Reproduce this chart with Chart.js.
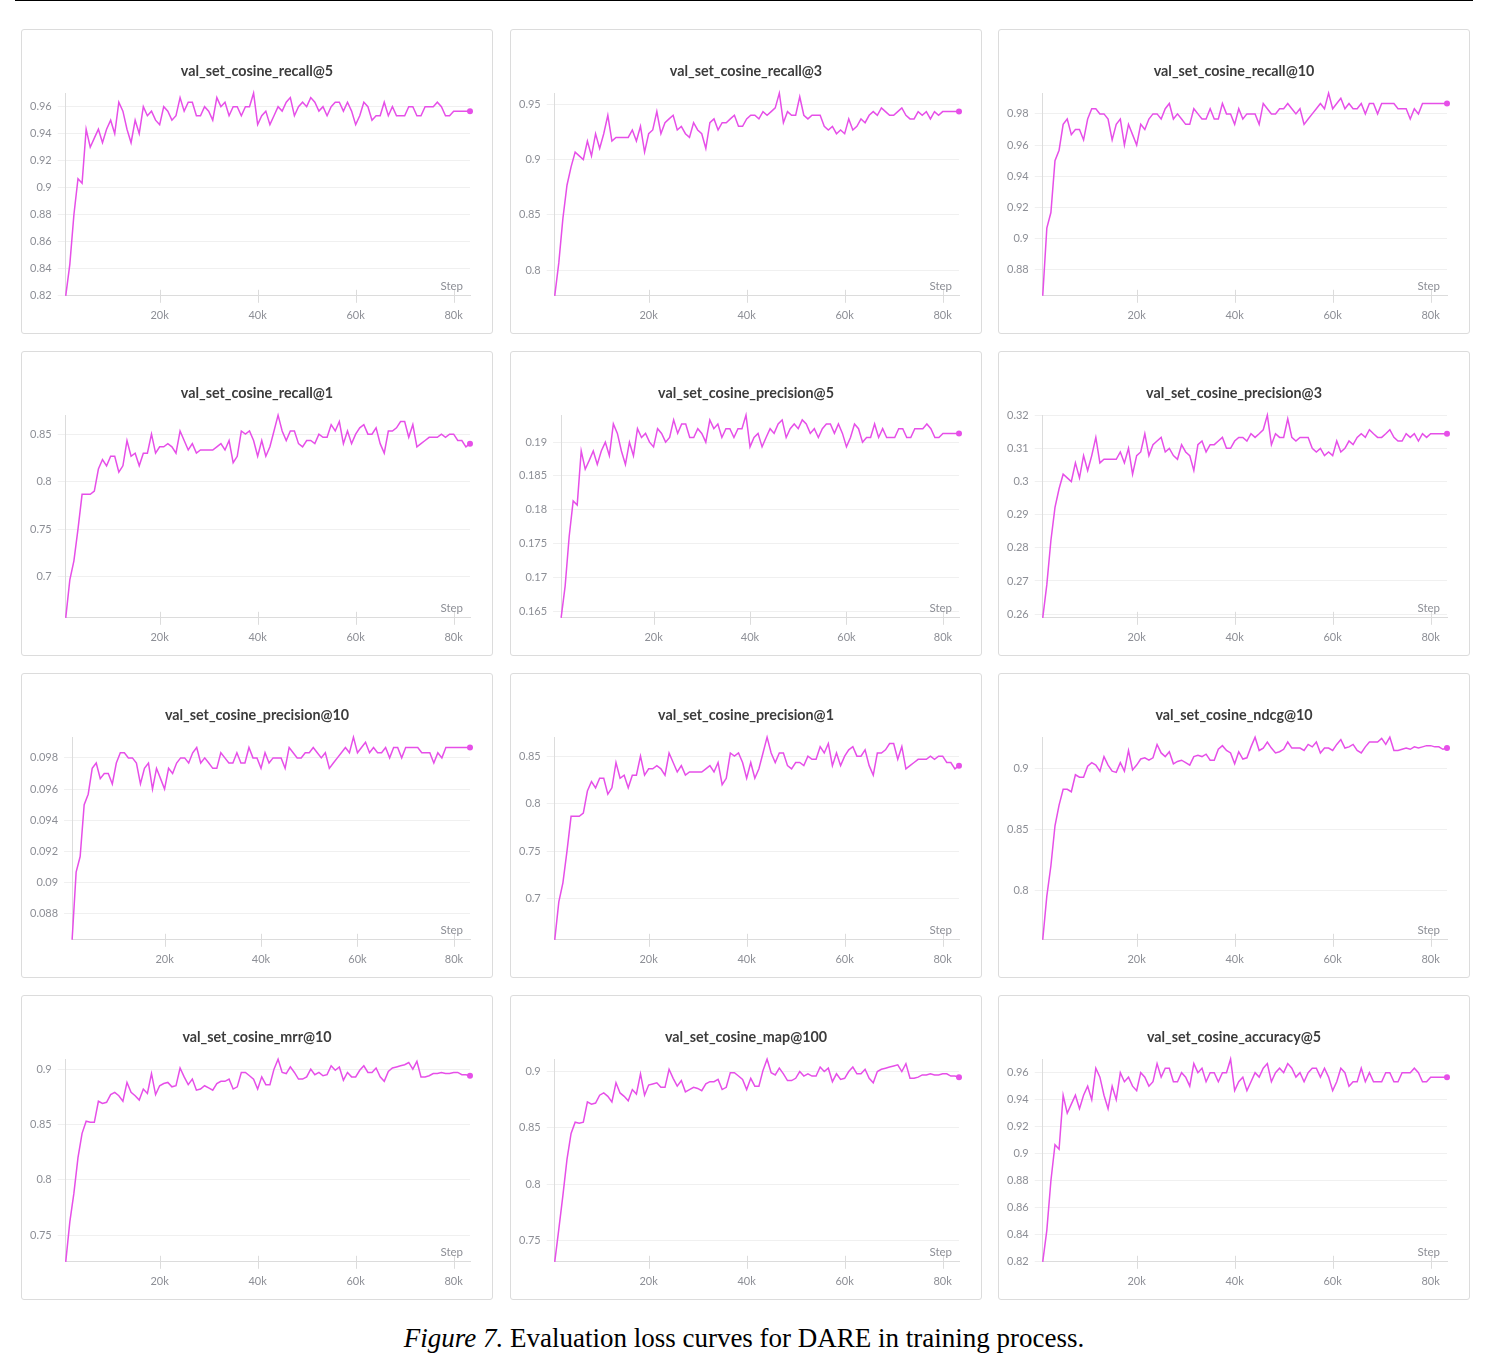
<!DOCTYPE html>
<html>
<head>
<meta charset="utf-8">
<script src="https://cdn.jsdelivr.net/npm/chart.js@4.4.1/dist/chart.umd.min.js"></script>
<style>
  html, body { margin: 0; padding: 0; background: #ffffff; }
  body { width: 1488px; height: 1368px; position: relative; overflow: hidden; }
  #topline { position: absolute; left: 15px; top: 0px; width: 1458px; height: 1px; background: #000; }
  .panel { position: absolute; width: 472px; height: 305px; box-sizing: border-box;
           border: 1px solid #dcdcdc; border-radius: 3px; background: #fff; }
  .panel canvas { position: absolute; left: 0; top: 0; }
  #caption { position: absolute; left: 0; width: 1488px; top: 1323px; text-align: center;
             font-family: 'Liberation Serif', 'Times New Roman', serif; font-size: 27px; line-height: 30px; color: #000; }
</style>
</head>
<body>
<div id="topline"></div>
<div id="grid"></div>
<div id="caption"><i>Figure 7.</i> Evaluation loss curves for DARE in training process.</div>
<script>
// ---- data ----
const steps = [833,1667,2500,3333,4167,5000,5833,6667,7500,8333,9167,10000,10833,11667,12500,13333,14167,15000,15833,16667,17500,18333,19167,20000,20833,21667,22500,23333,24167,25000,25833,26667,27500,28333,29167,30000,30833,31667,32500,33333,34167,35000,35833,36667,37500,38333,39167,40000,40833,41667,42500,43333,44167,45000,45833,46667,47500,48333,49167,50000,50833,51667,52500,53333,54167,55000,55833,56667,57500,58333,59167,60000,60833,61667,62500,63333,64167,65000,65833,66667,67500,68333,69167,70000,70833,71667,72500,73333,74167,75000,75833,76667,77500,78333,79167,80000,80833,81667,82500,83333];

const xTicks = [20000, 40000, 60000, 80000];

const recall5 = [0.82,0.8433,0.88,0.9067,0.9033,0.9433,0.93,0.9367,0.9433,0.9333,0.9433,0.95,0.94,0.9633,0.9567,0.9433,0.9333,0.95,0.94,0.96,0.9533,0.9567,0.95,0.9467,0.96,0.9567,0.95,0.9533,0.9667,0.9567,0.9633,0.9633,0.9533,0.9533,0.96,0.9567,0.95,0.9667,0.96,0.9633,0.9533,0.96,0.96,0.9533,0.96,0.96,0.97,0.9467,0.9533,0.9567,0.9467,0.9533,0.96,0.9567,0.9633,0.9667,0.9533,0.96,0.9633,0.96,0.9667,0.9633,0.9567,0.96,0.9533,0.96,0.9633,0.9633,0.9567,0.9633,0.9567,0.9467,0.9533,0.9633,0.96,0.95,0.9533,0.9533,0.9633,0.9533,0.96,0.9533,0.9533,0.9533,0.96,0.96,0.9533,0.9533,0.96,0.96,0.96,0.9633,0.96,0.9533,0.9533,0.9567,0.9567,0.9567,0.9567,0.9567];

const recall3 = [0.7767,0.8067,0.8467,0.8767,0.8933,0.9067,0.9033,0.9,0.9167,0.9033,0.9233,0.91,0.9233,0.94,0.9167,0.92,0.92,0.92,0.92,0.9267,0.9167,0.93,0.9067,0.9233,0.9267,0.9433,0.9233,0.9333,0.9367,0.94,0.9267,0.93,0.9233,0.92,0.9333,0.9267,0.9233,0.91,0.9333,0.9367,0.9267,0.9333,0.9333,0.9367,0.94,0.93,0.93,0.9367,0.94,0.94,0.9367,0.9433,0.94,0.9433,0.9467,0.96,0.9333,0.9433,0.94,0.94,0.9567,0.94,0.9367,0.94,0.94,0.94,0.93,0.9267,0.93,0.9233,0.9267,0.9233,0.9367,0.9267,0.93,0.9367,0.9333,0.94,0.9433,0.94,0.9467,0.9433,0.94,0.94,0.9433,0.9467,0.94,0.9367,0.9367,0.9433,0.94,0.9433,0.9367,0.9433,0.94,0.9433,0.9433,0.9433,0.9433,0.9433];

const recall10 = [0.8633,0.9067,0.9167,0.95,0.9567,0.9733,0.9767,0.9667,0.97,0.97,0.9633,0.9767,0.9833,0.9833,0.98,0.98,0.9767,0.9633,0.9733,0.9767,0.96,0.9733,0.9667,0.96,0.9733,0.97,0.9767,0.98,0.98,0.9767,0.9833,0.9867,0.9767,0.98,0.9767,0.9733,0.9733,0.9833,0.98,0.9767,0.9767,0.9833,0.9767,0.9767,0.9867,0.98,0.98,0.9733,0.9833,0.9767,0.98,0.98,0.98,0.9733,0.9867,0.9833,0.98,0.98,0.9833,0.9833,0.9867,0.9833,0.98,0.9833,0.9733,0.9767,0.98,0.9833,0.9867,0.9833,0.9933,0.9833,0.9867,0.99,0.9833,0.9867,0.9833,0.9833,0.9867,0.98,0.9867,0.9867,0.98,0.9867,0.9867,0.9867,0.9867,0.9833,0.9833,0.9833,0.9767,0.9833,0.98,0.9867,0.9867,0.9867,0.9867,0.9867,0.9867,0.9867];

const recall1 = [0.6567,0.6967,0.7167,0.75,0.7867,0.7867,0.7867,0.79,0.8133,0.8233,0.8167,0.8267,0.8267,0.81,0.8167,0.8433,0.8267,0.83,0.8167,0.83,0.83,0.85,0.83,0.8367,0.8367,0.84,0.8367,0.83,0.8533,0.8433,0.8333,0.84,0.83,0.8333,0.8333,0.8333,0.8333,0.8367,0.84,0.8333,0.8433,0.82,0.8267,0.8533,0.85,0.8533,0.8433,0.8267,0.8433,0.8267,0.8367,0.8533,0.87,0.8533,0.8433,0.8533,0.8533,0.84,0.8367,0.8433,0.8433,0.84,0.85,0.8467,0.8467,0.86,0.8533,0.8633,0.84,0.8533,0.84,0.85,0.8567,0.86,0.85,0.85,0.8567,0.84,0.83,0.8533,0.8533,0.8567,0.8633,0.8633,0.8467,0.86,0.8367,0.84,0.8433,0.8467,0.8467,0.8467,0.85,0.8467,0.85,0.85,0.8433,0.8433,0.8367,0.84];

const precision5 = [0.164,0.1687,0.176,0.1813,0.1807,0.1887,0.186,0.1873,0.1887,0.1867,0.1887,0.19,0.188,0.1927,0.1913,0.1887,0.1867,0.19,0.188,0.192,0.1907,0.1913,0.19,0.1893,0.192,0.1913,0.19,0.1907,0.1933,0.1913,0.1927,0.1927,0.1907,0.1907,0.192,0.1913,0.19,0.1933,0.192,0.1927,0.1907,0.192,0.192,0.1907,0.192,0.192,0.194,0.1893,0.1907,0.1913,0.1893,0.1907,0.192,0.1913,0.1927,0.1933,0.1907,0.192,0.1927,0.192,0.1933,0.1927,0.1913,0.192,0.1907,0.192,0.1927,0.1927,0.1913,0.1927,0.1913,0.1893,0.1907,0.1927,0.192,0.19,0.1907,0.1907,0.1927,0.1907,0.192,0.1907,0.1907,0.1907,0.192,0.192,0.1907,0.1907,0.192,0.192,0.192,0.1927,0.192,0.1907,0.1907,0.1913,0.1913,0.1913,0.1913,0.1913];

const precision3 = [0.2589,0.2689,0.2822,0.2922,0.2978,0.3022,0.3011,0.3,0.3056,0.3011,0.3078,0.3033,0.3078,0.3133,0.3056,0.3067,0.3067,0.3067,0.3067,0.3089,0.3056,0.31,0.3022,0.3078,0.3089,0.3144,0.3078,0.3111,0.3122,0.3133,0.3089,0.31,0.3078,0.3067,0.3111,0.3089,0.3078,0.3033,0.3111,0.3122,0.3089,0.3111,0.3111,0.3122,0.3133,0.31,0.31,0.3122,0.3133,0.3133,0.3122,0.3144,0.3133,0.3144,0.3156,0.32,0.3111,0.3144,0.3133,0.3133,0.3189,0.3133,0.3122,0.3133,0.3133,0.3133,0.31,0.3089,0.31,0.3078,0.3089,0.3078,0.3122,0.3089,0.31,0.3122,0.3111,0.3133,0.3144,0.3133,0.3156,0.3144,0.3133,0.3133,0.3144,0.3156,0.3133,0.3122,0.3122,0.3144,0.3133,0.3144,0.3122,0.3144,0.3133,0.3144,0.3144,0.3144,0.3144,0.3144];

const precision10 = [0.08633,0.09067,0.09167,0.095,0.09567,0.09733,0.09767,0.09667,0.097,0.097,0.09633,0.09767,0.09833,0.09833,0.098,0.098,0.09767,0.09633,0.09733,0.09767,0.096,0.09733,0.09667,0.096,0.09733,0.097,0.09767,0.098,0.098,0.09767,0.09833,0.09867,0.09767,0.098,0.09767,0.09733,0.09733,0.09833,0.098,0.09767,0.09767,0.09833,0.09767,0.09767,0.09867,0.098,0.098,0.09733,0.09833,0.09767,0.098,0.098,0.098,0.09733,0.09867,0.09833,0.098,0.098,0.09833,0.09833,0.09867,0.09833,0.098,0.09833,0.09733,0.09767,0.098,0.09833,0.09867,0.09833,0.09933,0.09833,0.09867,0.099,0.09833,0.09867,0.09833,0.09833,0.09867,0.098,0.09867,0.09867,0.098,0.09867,0.09867,0.09867,0.09867,0.09833,0.09833,0.09833,0.09767,0.09833,0.098,0.09867,0.09867,0.09867,0.09867,0.09867,0.09867,0.09867];

const precision1 = [0.6567,0.6967,0.7167,0.75,0.7867,0.7867,0.7867,0.79,0.8133,0.8233,0.8167,0.8267,0.8267,0.81,0.8167,0.8433,0.8267,0.83,0.8167,0.83,0.83,0.85,0.83,0.8367,0.8367,0.84,0.8367,0.83,0.8533,0.8433,0.8333,0.84,0.83,0.8333,0.8333,0.8333,0.8333,0.8367,0.84,0.8333,0.8433,0.82,0.8267,0.8533,0.85,0.8533,0.8433,0.8267,0.8433,0.8267,0.8367,0.8533,0.87,0.8533,0.8433,0.8533,0.8533,0.84,0.8367,0.8433,0.8433,0.84,0.85,0.8467,0.8467,0.86,0.8533,0.8633,0.84,0.8533,0.84,0.85,0.8567,0.86,0.85,0.85,0.8567,0.84,0.83,0.8533,0.8533,0.8567,0.8633,0.8633,0.8467,0.86,0.8367,0.84,0.8433,0.8467,0.8467,0.8467,0.85,0.8467,0.85,0.85,0.8433,0.8433,0.8367,0.84];

const ndcg10 = [0.759,0.795,0.82,0.853,0.87,0.883,0.883,0.881,0.895,0.893,0.893,0.902,0.905,0.903,0.898,0.91,0.903,0.898,0.897,0.905,0.898,0.915,0.899,0.903,0.908,0.909,0.907,0.909,0.92,0.913,0.91,0.914,0.904,0.906,0.907,0.905,0.903,0.91,0.911,0.91,0.912,0.907,0.907,0.916,0.919,0.915,0.913,0.904,0.914,0.908,0.909,0.918,0.926,0.915,0.917,0.922,0.917,0.913,0.914,0.916,0.922,0.917,0.917,0.917,0.915,0.92,0.918,0.922,0.913,0.917,0.917,0.915,0.92,0.924,0.917,0.918,0.92,0.915,0.913,0.918,0.922,0.922,0.922,0.925,0.92,0.926,0.915,0.915,0.916,0.917,0.916,0.918,0.917,0.918,0.919,0.919,0.918,0.918,0.916,0.917];

const mrr10 = [0.726,0.762,0.788,0.82,0.842,0.853,0.852,0.852,0.871,0.869,0.87,0.877,0.879,0.876,0.871,0.888,0.879,0.876,0.872,0.882,0.878,0.896,0.877,0.885,0.887,0.888,0.884,0.885,0.901,0.893,0.886,0.891,0.881,0.882,0.885,0.883,0.881,0.887,0.889,0.889,0.891,0.882,0.884,0.897,0.897,0.894,0.891,0.882,0.893,0.886,0.886,0.9,0.909,0.897,0.896,0.902,0.897,0.891,0.891,0.893,0.9,0.895,0.897,0.894,0.895,0.903,0.899,0.902,0.89,0.897,0.893,0.893,0.899,0.903,0.897,0.897,0.901,0.893,0.889,0.898,0.901,0.902,0.903,0.904,0.906,0.9,0.907,0.893,0.893,0.894,0.896,0.896,0.897,0.896,0.896,0.897,0.897,0.895,0.895,0.894];

const map100 = [0.731,0.76,0.79,0.822,0.845,0.855,0.854,0.855,0.873,0.871,0.872,0.879,0.881,0.878,0.873,0.89,0.881,0.878,0.874,0.884,0.88,0.898,0.879,0.888,0.889,0.89,0.886,0.886,0.902,0.894,0.887,0.892,0.882,0.884,0.886,0.885,0.883,0.889,0.891,0.891,0.893,0.884,0.886,0.899,0.899,0.896,0.893,0.884,0.894,0.887,0.887,0.901,0.911,0.899,0.897,0.903,0.898,0.892,0.892,0.894,0.9,0.896,0.898,0.896,0.896,0.904,0.9,0.903,0.891,0.898,0.893,0.894,0.9,0.904,0.898,0.898,0.902,0.894,0.89,0.9,0.902,0.903,0.904,0.905,0.906,0.9,0.907,0.894,0.894,0.895,0.897,0.897,0.898,0.897,0.897,0.898,0.898,0.896,0.896,0.895];

const accuracy5 = [0.82,0.8433,0.88,0.9067,0.9033,0.9433,0.93,0.9367,0.9433,0.9333,0.9433,0.95,0.94,0.9633,0.9567,0.9433,0.9333,0.95,0.94,0.96,0.9533,0.9567,0.95,0.9467,0.96,0.9567,0.95,0.9533,0.9667,0.9567,0.9633,0.9633,0.9533,0.9533,0.96,0.9567,0.95,0.9667,0.96,0.9633,0.9533,0.96,0.96,0.9533,0.96,0.96,0.97,0.9467,0.9533,0.9567,0.9467,0.9533,0.96,0.9567,0.9633,0.9667,0.9533,0.96,0.9633,0.96,0.9667,0.9633,0.9567,0.96,0.9533,0.96,0.9633,0.9633,0.9567,0.9633,0.9567,0.9467,0.9533,0.9633,0.96,0.95,0.9533,0.9533,0.9633,0.9533,0.96,0.9533,0.9533,0.9533,0.96,0.96,0.9533,0.9533,0.96,0.96,0.96,0.9633,0.96,0.9533,0.9533,0.9567,0.9567,0.9567,0.9567,0.9567];

// y tick labels per chart
const ticksRecall5 = [0.82,0.84,0.86,0.88,0.9,0.92,0.94,0.96];
const ticksRecall3 = [0.8,0.85,0.9,0.95];
const ticksRecall10 = [0.88,0.9,0.92,0.94,0.96,0.98];
const ticksRecall1 = [0.7,0.75,0.8,0.85];
const ticksPrecision5 = [0.165,0.17,0.175,0.18,0.185,0.19];
const ticksPrecision3 = [0.26,0.27,0.28,0.29,0.3,0.31,0.32];
const ticksPrecision10 = [0.088,0.09,0.092,0.094,0.096,0.098];
const ticksPrecision1 = [0.7,0.75,0.8,0.85];
const ticksNdcg10 = [0.8,0.85,0.9];
const ticksMrr10 = [0.75,0.8,0.85,0.9];
const ticksMap100 = [0.75,0.8,0.85,0.9];
const ticksAccuracy5 = [0.82,0.84,0.86,0.88,0.9,0.92,0.94,0.96];

const titles = ['val_set_cosine_recall@5','val_set_cosine_recall@3','val_set_cosine_recall@10',
  'val_set_cosine_recall@1','val_set_cosine_precision@5','val_set_cosine_precision@3',
  'val_set_cosine_precision@10','val_set_cosine_precision@1','val_set_cosine_ndcg@10',
  'val_set_cosine_mrr@10','val_set_cosine_map@100','val_set_cosine_accuracy@5'];
const seriesList = [recall5, recall3, recall10, recall1, precision5, precision3,
  precision10, precision1, ndcg10, mrr10, map100, accuracy5];
const tickList = [ticksRecall5, ticksRecall3, ticksRecall10, ticksRecall1, ticksPrecision5, ticksPrecision3,
  ticksPrecision10, ticksPrecision1, ticksNdcg10, ticksMrr10, ticksMap100, ticksAccuracy5];

// ---- styling / layout ----
const LINE = '#e64fe8';
const TICK = '#8d8f96';
const FONT = "Lato, 'Noto Sans', sans-serif";
const colLeft = [21, 510, 998];
const rowTop = [29, 351, 673, 995];

const stepPlugin = {
  id: 'stepDecor',
  beforeDatasetsDraw(chart) {
    const {ctx, chartArea: a, scales: {x}} = chart;
    ctx.save();
    ctx.strokeStyle = '#dcdcdc';
    ctx.lineWidth = 1;
    x.ticks.forEach(t => {
      const px = Math.round(x.getPixelForValue(t.value)) + 0.5;
      ctx.beginPath();
      ctx.moveTo(px, a.bottom - 6);
      ctx.lineTo(px, a.bottom + 7);
      ctx.stroke();
    });
    ctx.fillStyle = TICK;
    ctx.font = '11.5px ' + FONT;
    ctx.textAlign = 'right';
    ctx.textBaseline = 'middle';
    ctx.fillText('Step', a.right - 7, a.bottom - 9.5);
    ctx.restore();
  }
};

const grid = document.getElementById('grid');
titles.forEach((title, k) => {
  const values = seriesList[k];
  const yTicks = tickList[k];
  const panel = document.createElement('div');
  panel.className = 'panel';
  panel.style.left = colLeft[k % 3] + 'px';
  panel.style.top = rowTop[Math.floor(k / 3)] + 'px';
  const canvas = document.createElement('canvas');
  canvas.width = 470; canvas.height = 303;
  panel.appendChild(canvas);
  grid.appendChild(panel);
  const last = values.length - 1;
  new Chart(canvas, {
    type: 'line',
    data: {
      datasets: [{
        data: steps.map((s, i) => ({x: s, y: values[i]})),
        yAxisID: 'y',
        borderColor: LINE,
        backgroundColor: LINE,
        borderWidth: 1.5,
        tension: 0,
        pointRadius: c => (c.dataIndex === last ? 3 : 0),
        pointHoverRadius: 0,
        pointBorderWidth: 0,
        pointBackgroundColor: LINE,
        clip: false
      }]
    },
    options: {
      responsive: false,
      animation: false,
      devicePixelRatio: 1,
      events: [],
      layout: {padding: {left: 2, right: 2, bottom: -2, top: 0}},
      plugins: {
        legend: {display: false},
        tooltip: {enabled: false},
        title: {
          display: true, text: title, color: '#3c3c3c',
          font: {family: FONT, size: 14.3, weight: 'bold'},
          padding: {top: 33, bottom: 13}
        }
      },
      scales: {
        x: {
          type: 'linear',
          min: steps[0], max: steps[last],
          afterBuildTicks: s => { s.ticks = xTicks.map(v => ({value: v})); },
          grid: {display: false, drawTicks: false, tickLength: 0},
          border: {display: true, color: '#dcdcdc', width: 1},
          ticks: {padding: 13, color: TICK, font: {family: FONT, size: 11},
                  maxRotation: 0, autoSkip: false, callback: v => (v / 1000) + 'k'}
        },
        y: {
          type: 'linear',
          position: 'left',
          min: Math.min(...values), max: Math.max(...values),
          afterBuildTicks: s => { s.ticks = yTicks.map(v => ({value: v})); },
          grid: {color: '#f0f0f0', tickLength: 8},
          border: {display: true, color: '#dcdcdc', width: 1},
          ticks: {padding: 6, color: TICK, font: {family: FONT, size: 11},
                  autoSkip: false, callback: v => String(v)}
        },
        yRight: {
          type: 'linear',
          position: 'right',
          display: true,
          grid: {display: false, drawTicks: false, tickLength: 0},
          border: {display: false},
          ticks: {display: false},
          afterFit: s => { s.width = 20; }
        }
      }
    },
    plugins: [stepPlugin]
  });
});
</script>
</body>
</html>
